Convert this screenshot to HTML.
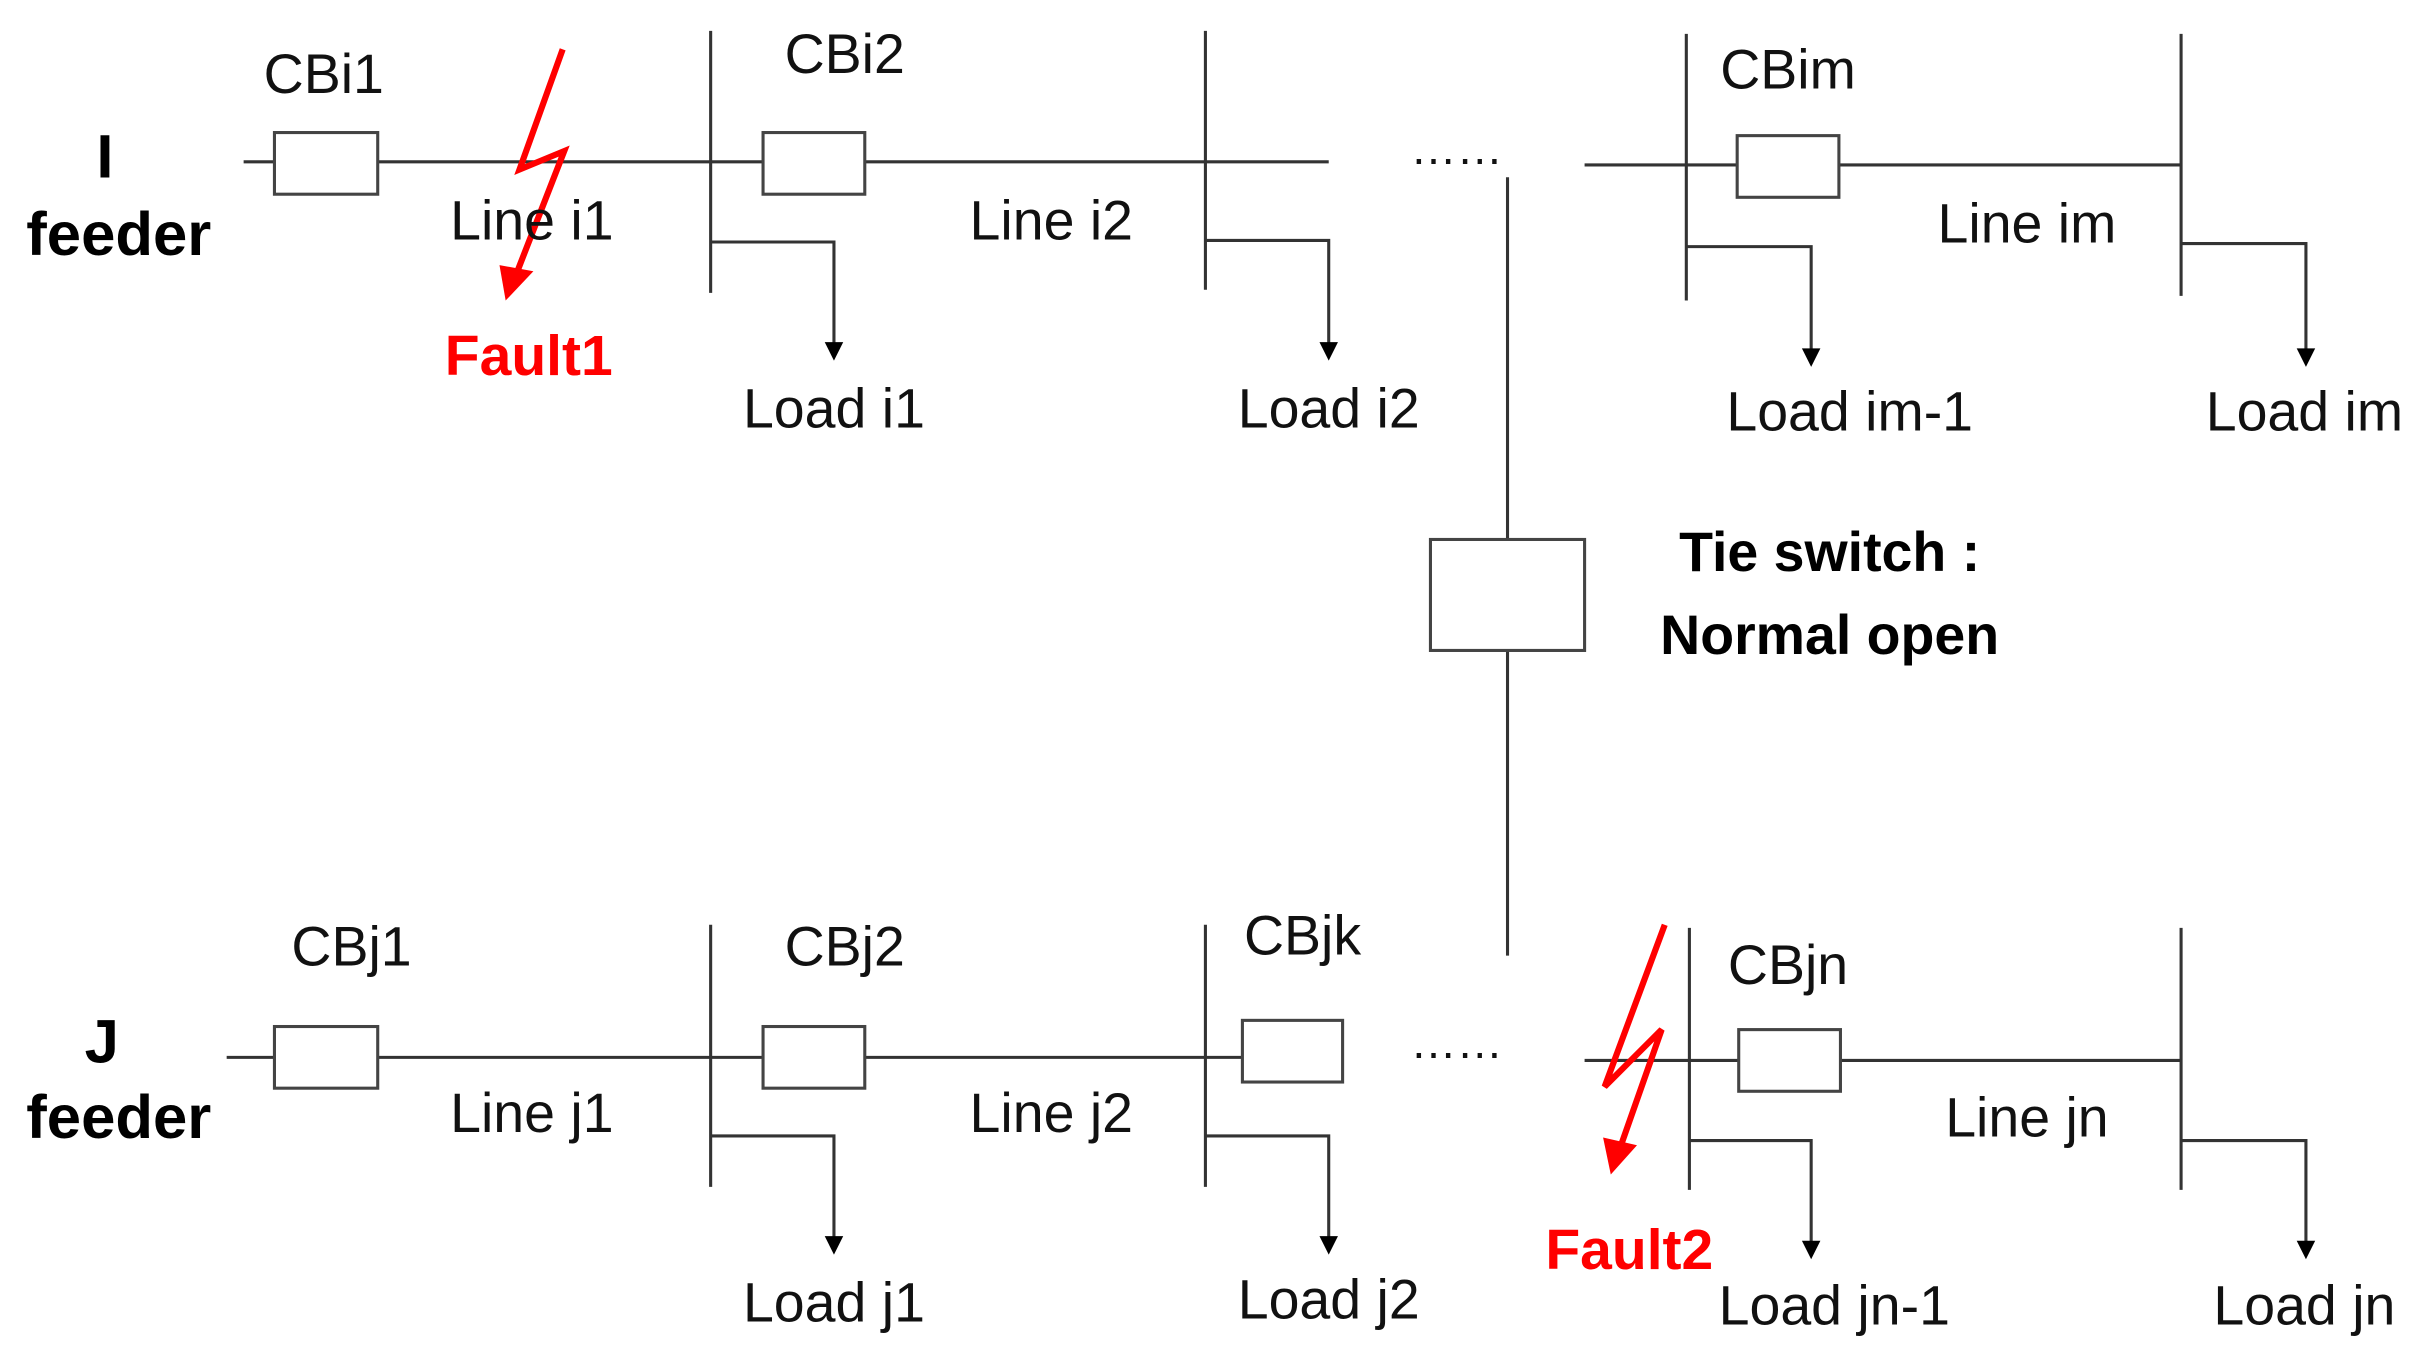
<!DOCTYPE html>
<html><head><meta charset="utf-8"><style>html,body{margin:0;padding:0;background:#fff}svg{display:block}</style></head>
<body>
<svg width="2417" height="1361" viewBox="0 0 1568 883" xmlns="http://www.w3.org/2000/svg" font-family="Liberation Sans, sans-serif">
<g stroke="#333" stroke-width="2" fill="none">
<line x1="158" y1="105" x2="862" y2="105"/>
<line x1="1028" y1="107" x2="1415" y2="107"/>
<line x1="461" y1="20" x2="461" y2="190"/>
<line x1="782" y1="20" x2="782" y2="188"/>
<line x1="1094" y1="22" x2="1094" y2="195"/>
<line x1="1415" y1="22" x2="1415" y2="192"/>
<polyline points="461,157 541,157 541,226"/>
<polyline points="782,156 862,156 862,226"/>
<polyline points="1094,160 1175,160 1175,230"/>
<polyline points="1415,158 1496,158 1496,230"/>
<line x1="978" y1="115" x2="978" y2="350"/>
<line x1="978" y1="422" x2="978" y2="620"/>
<line x1="147" y1="686" x2="806" y2="686"/>
<line x1="1028" y1="688" x2="1415" y2="688"/>
<line x1="461" y1="600" x2="461" y2="770"/>
<line x1="782" y1="600" x2="782" y2="770"/>
<line x1="1096" y1="602" x2="1096" y2="772"/>
<line x1="1415" y1="602" x2="1415" y2="772"/>
<polyline points="461,737 541,737 541,806"/>
<polyline points="782,737 862,737 862,806"/>
<polyline points="1096,740 1175,740 1175,809"/>
<polyline points="1415,740 1496,740 1496,809"/>
</g>
<g fill="#000">
<path d="M535,222 L547,222 L541,234 Z"/>
<path d="M856,222 L868,222 L862,234 Z"/>
<path d="M1169,226 L1181,226 L1175,238 Z"/>
<path d="M1490,226 L1502,226 L1496,238 Z"/>
<path d="M535,802 L547,802 L541,814 Z"/>
<path d="M856,802 L868,802 L862,814 Z"/>
<path d="M1169,805 L1181,805 L1175,817 Z"/>
<path d="M1490,805 L1502,805 L1496,817 Z"/>
</g>
<g stroke="#444" stroke-width="2" fill="#fff">
<rect x="178" y="86" width="67" height="40"/>
<rect x="495" y="86" width="66" height="40"/>
<rect x="1127" y="88" width="66" height="40"/>
<rect x="928" y="350" width="100" height="72"/>
<rect x="178" y="666" width="67" height="40"/>
<rect x="495" y="666" width="66" height="40"/>
<rect x="806" y="662" width="65" height="40"/>
<rect x="1128" y="668" width="66" height="40"/>
</g>
<g stroke="#f00" stroke-width="4" fill="none" stroke-linejoin="miter">
<polyline points="365,32 337,110 366,98 336,175"/>
<polyline points="1080,600 1041,705 1078,668 1052,742"/>
</g>
<path d="M324,172 L346,176 L328,195 Z" fill="#f00"/>
<path d="M1040,738 L1062,743 L1045,762 Z" fill="#f00"/>
<g font-size="36" fill="#111" text-anchor="middle" dominant-baseline="central">
<text x="210" y="48">CBi1</text>
<text x="345" y="143">Line i1</text>
<text x="548" y="35">CBi2</text>
<text x="682" y="143">Line i2</text>
<text x="1160" y="45">CBim</text>
<text x="1315" y="145">Line im</text>
<text x="541" y="265">Load i1</text>
<text x="862" y="265">Load i2</text>
<text x="1200" y="267">Load im-1</text>
<text x="1495" y="267">Load im</text>
<text x="945" y="96" font-size="30">……</text>
<text x="945" y="676" font-size="30">……</text>
<text x="228" y="614">CBj1</text>
<text x="548" y="614">CBj2</text>
<text x="845" y="607">CBjk</text>
<text x="1160" y="626">CBjn</text>
<text x="345" y="722">Line j1</text>
<text x="682" y="722">Line j2</text>
<text x="1315" y="725">Line jn</text>
<text x="541" y="845">Load j1</text>
<text x="862" y="843">Load j2</text>
<text x="1190" y="847">Load jn-1</text>
<text x="1495" y="847">Load jn</text>
</g>
<g font-size="40" font-weight="bold" fill="#000" text-anchor="middle" dominant-baseline="central">
<text x="68" y="102">I</text>
<text x="77" y="152">feeder</text>
<text x="66" y="676">J</text>
<text x="77" y="725">feeder</text>
<text x="1187" y="358" font-size="36">Tie switch :</text>
<text x="1187" y="412" font-size="36">Normal open</text>
<text x="343" y="231" font-size="37" fill="#f00">Fault1</text>
<text x="1057" y="811" font-size="37" fill="#f00">Fault2</text>
</g>
</svg>
</body></html>
